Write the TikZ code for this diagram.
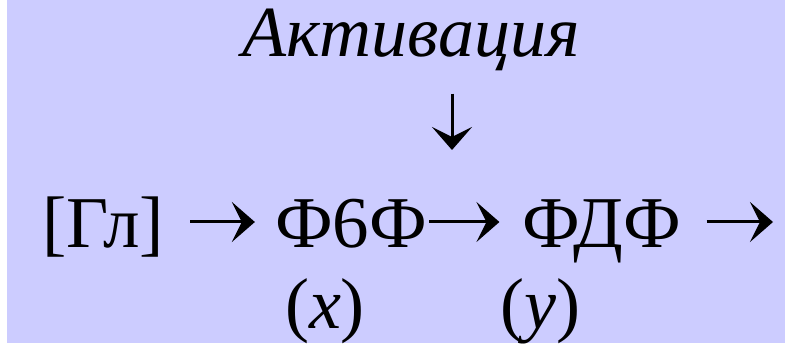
\documentclass[tikz,border=0pt]{standalone}
\usepackage{fontspec}
\setmainfont{Liberation Serif}[Script=Cyrillic,Language=Russian]
\usetikzlibrary{arrows.meta}
\definecolor{bgl}{RGB}{204,204,255}
\begin{document}
\begin{tikzpicture}[x=1pt,y=1pt,
  row/.style={font=\fontsize{73}{73}\selectfont, inner sep=0pt, text height=62pt, text depth=10pt, anchor=base},
  lab/.style={font=\fontsize{72}{72}\selectfont, inner sep=0pt, anchor=base},
  conn/.style={line width=3pt, -{Stealth[length=23pt,width=40pt,inset=10pt]}}]
\useasboundingbox (0,0) rectangle (785,343);
\fill[white] (0,0) rectangle (785,343);
\fill[bgl] (7,0) rectangle (785,343);
\node[lab, font=\fontsize{72}{72}\selectfont\itshape] (act) at (411,286) {Активация};
\node[row, anchor=base west] (gl) at (42,95) {[Гл]};
\node[row] (f6f) at (351,95) {Ф6Ф};
\node[row] (fdf) at (602,95) {ФДФ};
\node[lab] (lx) at (325,15) {(\textit{x})};
\node[lab] (ly) at (540,15) {(\textit{y})};
\coordinate (end) at (773,121);
\coordinate (dn) at (452,193);
\draw[conn, shorten <=26pt, shorten >=20pt] (gl.east) -- (gl.east -| f6f.west);
\draw[conn, shorten <=2pt, shorten >=23pt] (f6f.east) -- (f6f.east -| fdf.west);
\draw[conn, shorten <=25pt] (fdf.east) -- (end);
\draw[conn, shorten <=22pt] (dn |- act.south) -- (dn);
\end{tikzpicture}
\end{document}
